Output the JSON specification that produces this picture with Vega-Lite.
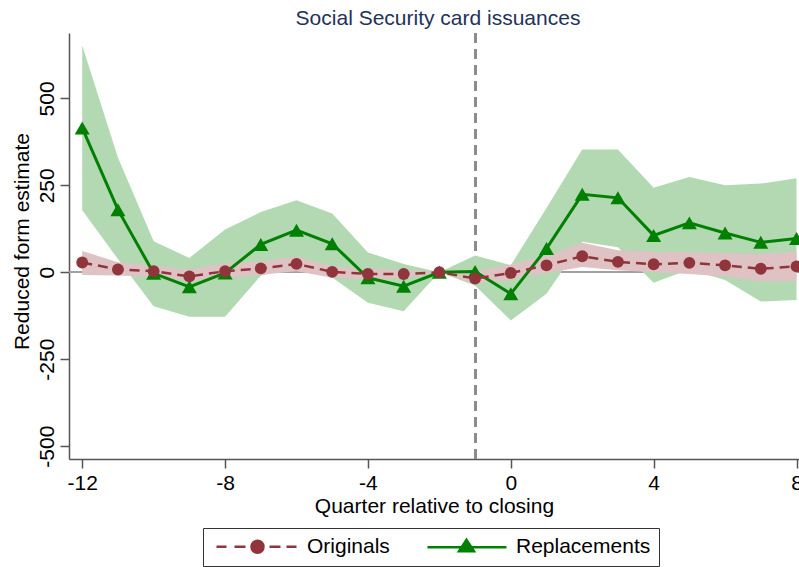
{
  "$schema": "https://vega.github.io/schema/vega-lite/v6.json",
  "width": 730,
  "height": 426,
  "autosize": {"type": "none"},
  "padding": {"left": 69, "top": 33, "right": 0, "bottom": 108},
  "background": "white",
  "title": {"text": "Social Security card issuances", "fontSize": 21, "font": "Liberation Sans", "fontWeight": "normal", "color": "#22325a", "anchor": "middle", "offset": 3, "dx": 4},
  "config": {
    "view": {"stroke": null},
    "axis": {"labelFont": "Liberation Sans", "labelFontSize": 21, "labelColor": "black", "titleFont": "Liberation Sans", "titleFontSize": 21, "titleFontWeight": "normal", "titleColor": "black", "tickColor": "#555", "domainColor": "#555", "tickWidth": 1.5, "domainWidth": 1.5, "tickSize": 9, "grid": false, "labelOverlap": false, "labelFlush": false, "labelExpr": "'' + datum.value"}
  },
  "data": {"values": [
    {"q": -12, "series": "Originals", "est": 28, "lo": -8, "hi": 61},
    {"q": -11, "series": "Originals", "est": 8, "lo": -9, "hi": 29},
    {"q": -10, "series": "Originals", "est": 3, "lo": -13, "hi": 19},
    {"q": -9, "series": "Originals", "est": -12, "lo": -24, "hi": 8},
    {"q": -8, "series": "Originals", "est": 3, "lo": -16, "hi": 26},
    {"q": -7, "series": "Originals", "est": 11, "lo": -7, "hi": 31},
    {"q": -6, "series": "Originals", "est": 24, "lo": 3, "hi": 45},
    {"q": -5, "series": "Originals", "est": 1, "lo": -16, "hi": 17},
    {"q": -4, "series": "Originals", "est": -5, "lo": -20, "hi": 10},
    {"q": -3, "series": "Originals", "est": -5, "lo": -16, "hi": 7},
    {"q": -2, "series": "Originals", "est": 0, "lo": 0, "hi": 0},
    {"q": -1, "series": "Originals", "est": -18, "lo": -33, "hi": 2},
    {"q": 0, "series": "Originals", "est": -2, "lo": -21, "hi": 22},
    {"q": 1, "series": "Originals", "est": 20, "lo": -2, "hi": 46},
    {"q": 2, "series": "Originals", "est": 46, "lo": 15, "hi": 85},
    {"q": 3, "series": "Originals", "est": 30, "lo": 6, "hi": 63},
    {"q": 4, "series": "Originals", "est": 23, "lo": 0, "hi": 58},
    {"q": 5, "series": "Originals", "est": 27, "lo": -5, "hi": 58},
    {"q": 6, "series": "Originals", "est": 20, "lo": -12, "hi": 55},
    {"q": 7, "series": "Originals", "est": 10, "lo": -26, "hi": 53},
    {"q": 8, "series": "Originals", "est": 17, "lo": -25, "hi": 59},
    {"q": -12, "series": "Replacements", "est": 415, "lo": 178, "hi": 652},
    {"q": -11, "series": "Replacements", "est": 180, "lo": 38, "hi": 330},
    {"q": -10, "series": "Replacements", "est": -3, "lo": -98, "hi": 89},
    {"q": -9, "series": "Replacements", "est": -42, "lo": -128, "hi": 41},
    {"q": -8, "series": "Replacements", "est": -2, "lo": -128, "hi": 123},
    {"q": -7, "series": "Replacements", "est": 80, "lo": -10, "hi": 173},
    {"q": -6, "series": "Replacements", "est": 121, "lo": 15, "hi": 207},
    {"q": -5, "series": "Replacements", "est": 82, "lo": -15, "hi": 169},
    {"q": -4, "series": "Replacements", "est": -16, "lo": -88, "hi": 57},
    {"q": -3, "series": "Replacements", "est": -40, "lo": -112, "hi": 24},
    {"q": -2, "series": "Replacements", "est": 0, "lo": 0, "hi": 0},
    {"q": -1, "series": "Replacements", "est": 2, "lo": -38, "hi": 48},
    {"q": 0, "series": "Replacements", "est": -62, "lo": -139, "hi": 20},
    {"q": 1, "series": "Replacements", "est": 68, "lo": -62, "hi": 185},
    {"q": 2, "series": "Replacements", "est": 224, "lo": 88, "hi": 353},
    {"q": 3, "series": "Replacements", "est": 214, "lo": 72, "hi": 353},
    {"q": 4, "series": "Replacements", "est": 106, "lo": -30, "hi": 243},
    {"q": 5, "series": "Replacements", "est": 142, "lo": 8, "hi": 274},
    {"q": 6, "series": "Replacements", "est": 113, "lo": -22, "hi": 250},
    {"q": 7, "series": "Replacements", "est": 86, "lo": -84, "hi": 255},
    {"q": 8, "series": "Replacements", "est": 97, "lo": -80, "hi": 270}
  ]},
  "encoding": {
    "x": {"field": "q", "type": "quantitative",
      "scale": {"domain": [-12.37, 8.07], "nice": false, "zero": false},
      "axis": {"values": [-12, -8, -4, 0, 4, 8], "title": "Quarter relative to closing", "labelPadding": 4, "titlePadding": 2}}
  },
  "layer": [
    {
      "mark": {"type": "rule", "color": "#a0a0a0", "strokeWidth": 1.5},
      "encoding": {"x": {"value": 0}, "x2": {"value": 730}, "y": {"datum": 0, "type": "quantitative", "scale": {"domain": [-537, 688], "nice": false, "zero": false},
        "axis": {"values": [-500, -250, 0, 250, 500], "title": "Reduced form estimate", "labelAngle": 270, "labelAlign": "center", "labelBaseline": "bottom", "labelPadding": 3, "titleX": -47, "titleY": 208, "titleBaseline": "middle", "titleAngle": 270}}}
    },
    {
      "mark": {"type": "rule", "color": "#8c8c8c", "strokeWidth": 2, "strokeDash": [10, 6]},
      "encoding": {"x": {"datum": -1, "type": "quantitative"}, "y": {"value": 0}, "y2": {"value": 426}}
    },
    {
      "transform": [{"filter": "datum.series === 'Replacements'"}],
      "mark": {"type": "area", "color": "#b2d9b2", "opacity": 1},
      "encoding": {"y": {"field": "lo", "type": "quantitative"}, "y2": {"field": "hi"}}
    },
    {
      "transform": [{"filter": "datum.series === 'Originals'"}],
      "mark": {"type": "area", "color": "#dec2c4", "opacity": 1},
      "encoding": {"y": {"field": "lo", "type": "quantitative"}, "y2": {"field": "hi"}}
    },
    {
      "transform": [{"filter": "datum.series === 'Replacements'"}],
      "mark": {"type": "line", "strokeWidth": 3},
      "encoding": {"y": {"field": "est", "type": "quantitative"},
        "color": {"field": "series", "type": "nominal",
          "scale": {"domain": ["Originals", "Replacements"], "range": ["#90353b", "#008000"]},
          "legend": {
            "title": null, "orient": "none", "legendX": 134, "legendY": 495, "direction": "horizontal",
            "strokeColor": "#333", "fillColor": "white", "padding": 8,
            "labelFont": "Liberation Sans", "labelFontSize": 21, "labelColor": "black",
            "symbolSize": 100, "symbolOffset": 36, "labelOffset": 39, "columnPadding": 30, "symbolStrokeWidth": 2.5,
            "encode": {"symbols": {"update": {
              "shape": {"signal": "datum.value === 'Originals' ? 'M-8.2,0H-6.2M-4.6,0H-2.4M2.4,0H4.6M5.8,0H7.8M-1.2,0A1.2,1.2,0,1,0,1.2,0A1.2,1.2,0,1,0,-1.2,0Z' : 'M-7.8,0H8M-1.5,0.8L1.5,0.8L0,-1.5Z'"},
              "fill": {"signal": "datum.value === 'Originals' ? '#90353b' : '#008000'"},
              "stroke": {"signal": "datum.value === 'Originals' ? '#90353b' : '#008000'"},
              "strokeDash": {"value": []},
              "opacity": {"value": 1}, "fillOpacity": {"value": 1}
            }}}
          }}}
    },
    {
      "transform": [{"filter": "datum.series === 'Replacements'"}],
      "mark": {"type": "point", "shape": "triangle-up", "filled": true, "size": 225, "opacity": 1},
      "encoding": {"y": {"field": "est", "type": "quantitative"}, "color": {"field": "series", "type": "nominal"}}
    },
    {
      "transform": [{"filter": "datum.series === 'Originals'"}],
      "mark": {"type": "line", "strokeWidth": 2.5, "strokeDash": [10, 6]},
      "encoding": {"y": {"field": "est", "type": "quantitative"}, "color": {"field": "series", "type": "nominal"}}
    },
    {
      "transform": [{"filter": "datum.series === 'Originals'"}],
      "mark": {"type": "point", "shape": "circle", "filled": true, "size": 140, "opacity": 1},
      "encoding": {"y": {"field": "est", "type": "quantitative"}, "color": {"field": "series", "type": "nominal"}}
    }
  ]
}
